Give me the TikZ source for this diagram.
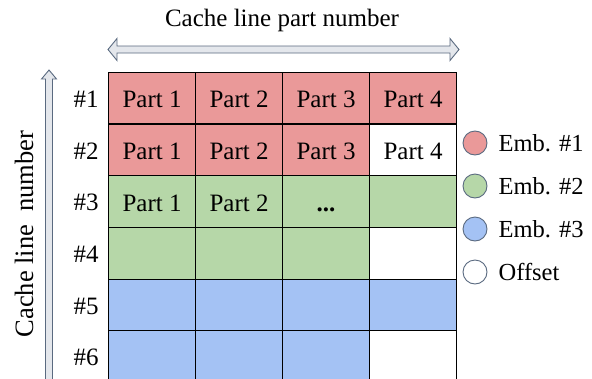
\documentclass[tikz,border=0pt]{standalone}
\usepackage{fontspec}
\setmainfont{Liberation Serif}
\definecolor{embred}{HTML}{EA9999}
\definecolor{embgreen}{HTML}{B6D7A8}
\definecolor{embblue}{HTML}{A4C2F4}
\definecolor{arrline}{HTML}{5A6A80}
\definecolor{arrfill}{HTML}{E4E7EC}

\begin{document}
\begin{tikzpicture}[x=1pt,y=-1pt,
    cell/.style={draw=black,line width=1.2pt,minimum width=87pt,minimum height=51.7pt,inner sep=0pt,anchor=north west},
    lbl/.style={font=\fontsize{25}{29}\selectfont,inner sep=0pt},
    legdot/.style={circle,draw=arrline,line width=0.9pt,minimum size=24pt,inner sep=0pt},
    fatarrow/.style={draw=arrline,fill=arrfill,line width=0.9pt,line join=miter}]
    \clip (0,0) rectangle (592,378);
    % axis arrows
    \draw[fatarrow] (108,49.5) -- (117,38.5) -- (117,46) -- (450,46) -- (450,38.5) -- (459,49.5)
        -- (450,60.5) -- (450,53) -- (117,53) -- (117,60.5) -- cycle;
    \draw[fatarrow] (49,70) -- (56.5,79) -- (52.5,79) -- (52.5,380) -- (56.5,380) -- (49,389)
        -- (41.5,380) -- (45.5,380) -- (45.5,79) -- (41.5,79) -- cycle;
    \node[lbl] (title) at (282,20) {Cache line part number};
    \node[lbl,rotate=90,font=\fontsize{26.5}{30}\selectfont] (side) at (24,234) {Cache line\ \ number};
    % cells, row by row
    \foreach \r/\f/\g in {1/embred/embred,2/embred/white,3/embgreen/embgreen,
                          4/embgreen/white,5/embblue/embblue,6/embblue/white}{
        \foreach \c in {1,2,3}
            \node[cell,fill=\f] (c\r\c) at ({108+87*(\c-1)},{71.7+51.7*(\r-1)}) {};
        \node[cell,fill=\g] (c\r4) at (369,{71.7+51.7*(\r-1)}) {};
        \node[lbl] (h\r) at (86,{99.3+51.7*(\r-1)}) {\#\r};
    }
    \foreach \r in {1,2}
        \foreach \c in {1,...,4}
            \node[lbl] (t\r\c) at ([yshift=-1.5pt]c\r\c.center) {Part \c};
    \node[lbl] (t31) at ([yshift=-1.5pt]c31.center) {Part 1};
    \node[lbl] (t32) at ([yshift=-1.5pt]c32.center) {Part 2};
    \node[lbl] (t33) at ([yshift=-1.5pt]c33.center) {\vphantom{P}\textbf{...}};
    % legend
    \foreach \i/\f/\t in {1/embred/Emb. \#1,2/embgreen/Emb. \#2,3/embblue/Emb. \#3,4/white/Offset}{
        \node[legdot,fill=\f] (d\i) at (475,{143+43*(\i-1)}) {};
        \node[lbl,anchor=west,font=\fontsize{24.5}{28}\selectfont] (e\i) at ([xshift=11pt]d\i.east) {\t};
    }
\end{tikzpicture}
\end{document}
